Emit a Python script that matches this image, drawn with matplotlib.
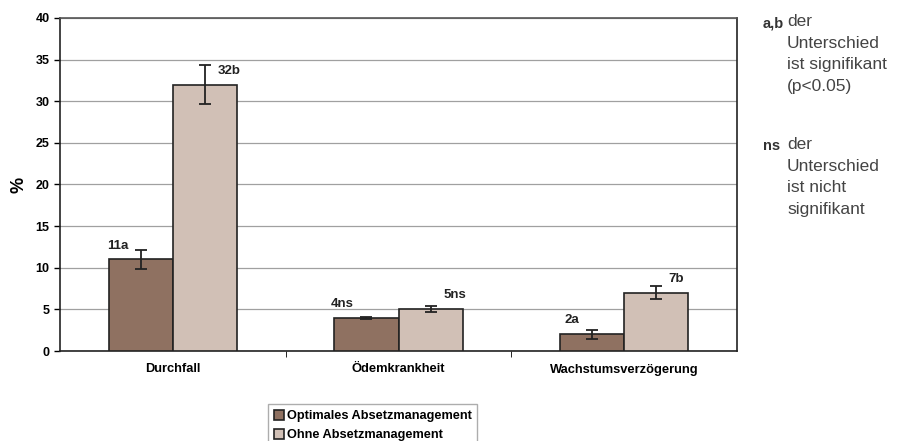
import matplotlib.pyplot as plt
import numpy as np

# Daten
kategorien = ['Durchfall', 'Ödemkrankheit', 'Wachstumsverzögerung']
optimal = [11, 4, 2]
ohne = [32, 5, 7]
optimal_err = [1.1, 0.1, 0.55]
ohne_err = [2.3, 0.35, 0.75]
optimal_lbl = ['11a', '4ns', '2a']
ohne_lbl = ['32b', '5ns', '7b']
serien = ['Optimales Absetzmanagement', 'Ohne Absetzmanagement']

farbe_dunkel = '#8f7161'
farbe_hell = '#d1c0b6'

plt.rcParams['font.family'] = ['Liberation Sans', 'DejaVu Sans']

fig = plt.figure(figsize=(9.07, 4.41), dpi=100)
ax = fig.add_axes([60/907, 1-351/441, 677/907, 333/441])

x = np.arange(len(kategorien)) + 0.5
b = 0.285

ax.bar(x - b/2, optimal, b, color=farbe_dunkel, edgecolor='#222222', linewidth=1.2,
       label=serien[0], zorder=3)
ax.bar(x + b/2, ohne, b, color=farbe_hell, edgecolor='#222222', linewidth=1.2,
       label=serien[1], zorder=3)
ax.errorbar(x - b/2, optimal, yerr=optimal_err, fmt='none', ecolor='#222222',
            elinewidth=1.3, capsize=4, capthick=1.3, zorder=4)
ax.errorbar(x + b/2, ohne, yerr=ohne_err, fmt='none', ecolor='#222222',
            elinewidth=1.3, capsize=4, capthick=1.3, zorder=4)

for i in range(len(kategorien)):
    ax.annotate(optimal_lbl[i], (x[i] - b/2, optimal[i]), xytext=(-9, 10),
                textcoords='offset points', ha='right', va='center',
                fontsize=9.5, fontweight='bold', color='#222222')
    ax.annotate(ohne_lbl[i], (x[i] + b/2, ohne[i]), xytext=(9, 10),
                textcoords='offset points', ha='left', va='center',
                fontsize=9.5, fontweight='bold', color='#222222')

ax.set_xlim(0, 3)
ax.set_ylim(0, 40)
ax.set_yticks(range(0, 41, 5))
ax.set_xticks(x)
ax.set_xticklabels(kategorien, fontsize=9.3, fontweight='bold')
ax.set_xticks([1, 2], minor=True)
ax.tick_params(axis='x', which='major', length=0, pad=9)
ax.tick_params(axis='x', which='minor', length=4, direction='out')
ax.tick_params(axis='y', length=4, direction='out', labelsize=9, width=1)
for t in ax.get_yticklabels():
    t.set_fontweight('bold')
ax.grid(axis='y', color='#a0a0a0', linewidth=0.9, zorder=0)
for s in ax.spines.values():
    s.set_color('#222222')
    s.set_linewidth(1.2)
ax.spines['top'].set_color('#555555')
ax.set_ylabel('%', fontsize=13, fontweight='bold', labelpad=6)

fig.legend(loc='upper left', bbox_to_anchor=(268/907, 1-404/441),
           prop={'weight': 'bold', 'size': 9.2}, frameon=True, fancybox=False,
           edgecolor='#999999', borderpad=0.45, handlelength=0.8, handleheight=0.8,
           handletextpad=0.2, labelspacing=0.55, borderaxespad=0)

# Erklärung rechts
tx = 763/907
tx2 = 787/907
fig.text(tx, 1-23/441, 'a,b', fontsize=10.5, fontweight='bold', va='center', color='#333333')
fig.text(tx2, 1-14/441, 'der\nUnterschied\nist signifikant\n(p<0.05)', fontsize=12.5,
         va='top', color='#444444', linespacing=1.55)
fig.text(tx, 1-146/441, 'ns', fontsize=10.5, fontweight='bold', va='center', color='#333333')
fig.text(tx2, 1-137/441, 'der\nUnterschied\nist nicht\nsignifikant', fontsize=12.5,
         va='top', color='#444444', linespacing=1.55)

fig.savefig('out.png', dpi=100)
